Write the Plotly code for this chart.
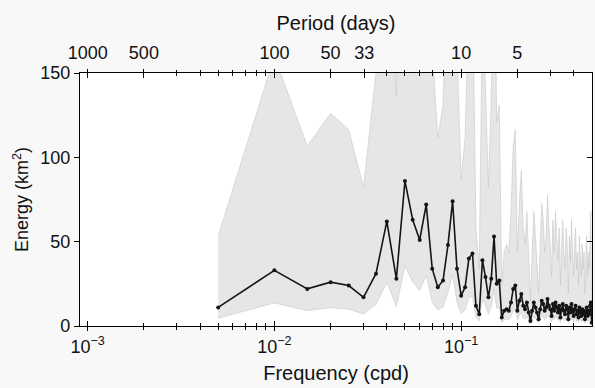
import math
import plotly.graph_objects as go

# Frequencies (cpd) of spectral estimates
frequency = [
    0.005, 0.010, 0.015, 0.020, 0.025, 0.030, 0.035, 0.040, 0.045, 0.050,
    0.055, 0.060, 0.065, 0.070, 0.075, 0.080, 0.085, 0.090, 0.095, 0.100,
    0.105, 0.110, 0.115, 0.120, 0.125, 0.130, 0.135, 0.140, 0.145, 0.150,
    0.155, 0.160, 0.165, 0.170, 0.175, 0.180, 0.185, 0.190, 0.195, 0.200,
    0.205, 0.210, 0.215, 0.220, 0.225, 0.230, 0.235, 0.240, 0.245, 0.250,
    0.255, 0.260, 0.265, 0.270, 0.275, 0.280, 0.285, 0.290, 0.295, 0.300,
    0.305, 0.310, 0.315, 0.320, 0.325, 0.330, 0.335, 0.340, 0.345, 0.350,
    0.355, 0.360, 0.365, 0.370, 0.375, 0.380, 0.385, 0.390, 0.395, 0.400,
    0.405, 0.410, 0.415, 0.420, 0.425, 0.430, 0.435, 0.440, 0.445, 0.450,
    0.455, 0.460, 0.465, 0.470, 0.475, 0.480, 0.485, 0.490, 0.495, 0.500,
]

# Energy (km^2)
energy = [
    11, 33, 22, 26, 24, 17, 31, 62, 28, 86,
    63, 51, 72, 34, 23, 27, 48, 74, 34, 18,
    23, 40, 43, 12, 7, 39, 29, 17, 28, 53,
    25, 27, 5, 9, 10, 9, 14, 22, 24, 9,
    15, 19, 12, 10, 14, 8, 3, 9, 14, 11,
    8, 4, 10, 15, 13, 9, 11, 16, 12, 10,
    6, 13, 9, 14, 11, 8, 12, 5, 10, 13,
    9, 7, 12, 10, 4, 11, 8, 13, 9, 6,
    10, 12, 7, 9, 5, 11, 8, 6, 10, 7,
    9, 4, 8, 11, 6, 9, 7, 12, 14, 2,
]

# 95% confidence band multipliers (chi-square, ~6 dof)
ci_lower_factor = 0.415
ci_upper_factor = 4.85
lower = [e * ci_lower_factor for e in energy]
upper = [e * ci_upper_factor for e in energy]

# Axis ticks
freq_tickvals = [0.001, 0.01, 0.1]
freq_ticktext = ["10<sup>\u22123</sup>", "10<sup>\u22122</sup>", "10<sup>\u22121</sup>"]
freq_minor = [0.002, 0.003, 0.004, 0.005, 0.006, 0.007, 0.008, 0.009,
              0.02, 0.03, 0.04, 0.05, 0.06, 0.07, 0.08, 0.09,
              0.2, 0.3, 0.4]
period_tickvals = [0.001, 0.002, 0.01, 0.02, 1 / 33, 0.1, 0.2]
period_ticktext = ["1000", "500", "100", "50", "33", "10", "5"]
period_minor = [0.003, 0.004, 0.005, 0.006, 0.007, 0.008, 0.009,
                0.04, 0.05, 0.06, 0.07, 0.08, 0.09, 0.3, 0.4]
energy_ticks = [0, 50, 100, 150]

xrange_log = [math.log10(0.00091), math.log10(0.502)]

FONT = "Liberation Sans, Arial, sans-serif"
fig = go.Figure()

fig.add_trace(go.Scatter(x=frequency, y=lower, mode="lines",
                         line=dict(color="rgba(190,190,190,0.8)", width=0.6),
                         hoverinfo="skip", showlegend=False))
fig.add_trace(go.Scatter(x=frequency, y=upper, mode="lines", fill="tonexty",
                         fillcolor="rgba(222,222,222,0.75)",
                         line=dict(color="rgba(190,190,190,0.8)", width=0.6),
                         hoverinfo="skip", showlegend=False))
fig.add_trace(go.Scatter(x=frequency, y=energy, mode="lines+markers",
                         line=dict(color="#151515", width=1.6),
                         marker=dict(color="#151515", size=4),
                         showlegend=False))

# dummy traces so the overlay axes render
for xa, ya in [("x2", "y"), ("x3", "y"), ("x4", "y"), ("x", "y2")]:
    fig.add_trace(go.Scatter(x=[0.01], y=[50], xaxis=xa, yaxis=ya, mode="markers",
                             marker=dict(opacity=0), hoverinfo="skip", showlegend=False))

common_x = dict(type="log", range=xrange_log, showgrid=False, zeroline=False,
                tickcolor="black", tickwidth=1)

fig.update_layout(
    width=595, height=388,
    margin=dict(l=80, r=3, t=73, b=62),
    paper_bgcolor="#f8f8f8", plot_bgcolor="white",
    font=dict(family=FONT, size=18, color="#111"),
    xaxis=dict(**common_x, side="bottom", showline=True, linecolor="black", linewidth=1.2,
               tickmode="array", tickvals=freq_tickvals, ticktext=freq_ticktext,
               ticks="outside", ticklen=4,
               minor=dict(tickmode="array", tickvals=freq_minor, ticks="outside", ticklen=3,
                          tickcolor="black"),
               title=dict(text="Frequency (cpd)", font=dict(size=20), standoff=10)),
    xaxis3=dict(**common_x, overlaying="x", side="bottom", showline=False,
                tickmode="array", tickvals=freq_tickvals, showticklabels=False,
                ticks="inside", ticklen=5,
                minor=dict(tickmode="array", tickvals=freq_minor, ticks="inside", ticklen=3,
                           tickcolor="black")),
    xaxis2=dict(**common_x, overlaying="x", side="top", showline=True, linecolor="black",
                linewidth=1.2,
                tickmode="array", tickvals=period_tickvals, ticktext=period_ticktext,
                ticks="outside", ticklen=3, ticklabelstandoff=3,
                minor=dict(tickmode="array", tickvals=period_minor, ticks="outside", ticklen=2,
                           tickcolor="black"),
                title=dict(text="Period (days)", font=dict(size=20), standoff=6)),
    xaxis4=dict(**common_x, overlaying="x", side="top", showline=False,
                tickmode="array", tickvals=period_tickvals, showticklabels=False,
                ticks="inside", ticklen=5,
                minor=dict(tickmode="array", tickvals=period_minor, ticks="inside", ticklen=3,
                           tickcolor="black")),
    yaxis=dict(range=[0, 150], showgrid=False, zeroline=False, showline=True,
               linecolor="black", linewidth=1.2, tickmode="array", tickvals=energy_ticks,
               ticks="outside", ticklen=5, tickcolor="black",
               title=dict(text="Energy (km<sup>2</sup>)", font=dict(size=18), standoff=6)),
    yaxis2=dict(range=[0, 150], overlaying="y", side="right", showgrid=False, zeroline=False,
                showline=True, linecolor="black", linewidth=1.2, tickmode="array",
                tickvals=energy_ticks, showticklabels=False, ticks="inside", ticklen=5,
                tickcolor="black"),
)

fig.write_html("out.html")
